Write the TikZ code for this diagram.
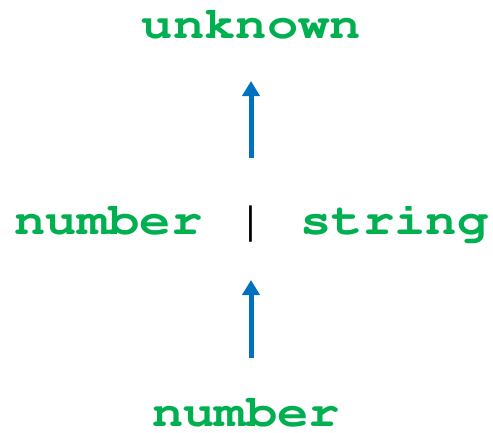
\documentclass[tikz,border=0pt]{standalone}
\usepackage[T1,TU]{fontenc}
\usepackage{fontspec}
\newfontfamily\barfont{Carlito}
\newcommand{\codefont}{\fontencoding{T1}\fontfamily{pcr}\fontseries{b}\fontshape{n}\fontsize{45}{45}\selectfont}
% Courier set a little wider than its natural width
\newcommand{\widecode}[1]{\scalebox{1.16}[1]{#1}}
\definecolor{typegreen}{HTML}{00B050}
\definecolor{arrowblue}{HTML}{0070C0}
\usetikzlibrary{arrows.meta}
\tikzset{
  typename/.style={font=\codefont, text=typegreen, anchor=base, inner sep=0pt, text depth=0pt},
  sep/.style={font=\barfont\fontsize{41}{41}\selectfont, text=black, anchor=base, inner sep=0pt},
  upcast/.style={draw=arrowblue, line width=5pt, -{Triangle[length=15pt,width=17pt]}}
}
\begin{document}
\begin{tikzpicture}[x=1pt,y=-1pt]
  \useasboundingbox (0,0) rectangle (493,432);
  \node[typename] (top) at (251.5,38) {\widecode{unknown}};
  \node[typename] (lnum) at (108.5,234.5) {\widecode{number}};
  \node[sep] (bar) at (251,235) {|};
  \node[typename] (lstr) at (394.5,234.5) {\widecode{string}};
  \node[typename] (bot) at (246,426.5) {\widecode{number}};
  \coordinate (a1s) at (251,158);
  \coordinate (a1e) at (251,81);
  \coordinate (a2s) at (251,358);
  \coordinate (a2e) at (251,280);
  \draw[upcast] (a1s) -- (a1e);
  \draw[upcast] (a2s) -- (a2e);
\end{tikzpicture}
\end{document}
